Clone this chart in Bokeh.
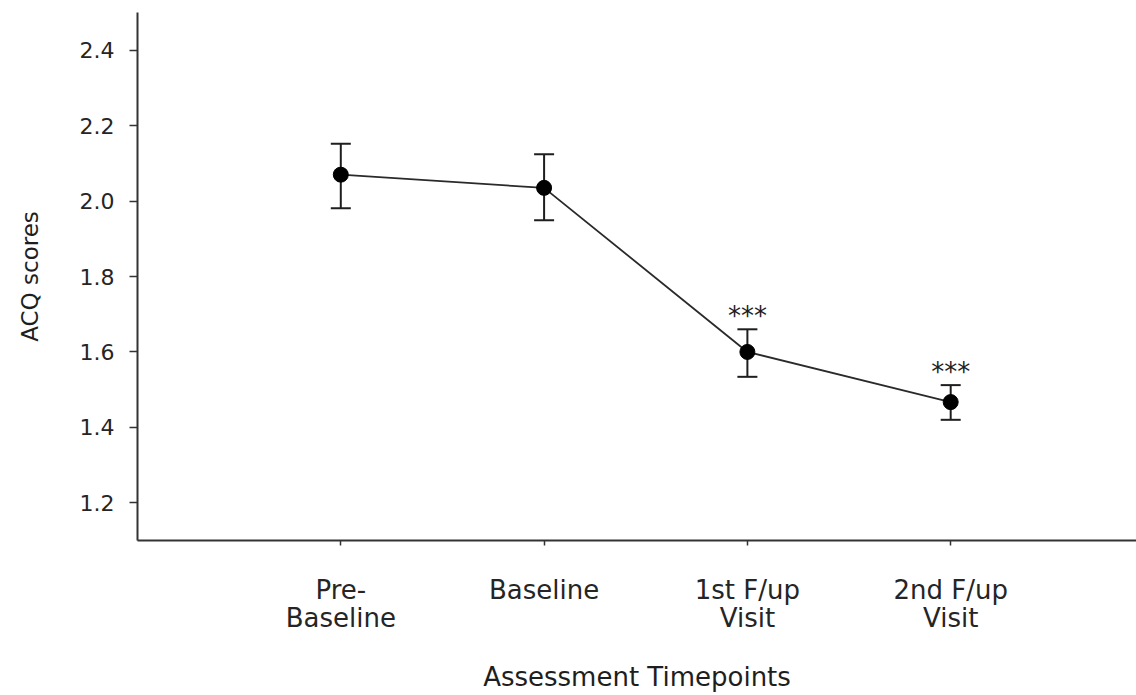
from bokeh.plotting import figure
from bokeh.models import ColumnDataSource, Whisker, TeeHead, FixedTicker, Range1d, NumeralTickFormatter
from bokeh.embed import file_html
from bokeh.resources import INLINE
from bokeh.core.properties import value

# ---- data ----
categories = ["Pre-\nBaseline", "Baseline", "1st F/up\nVisit", "2nd F/up\nVisit"]
positions = [1, 2, 3, 4]
means = [2.070, 2.035, 1.600, 1.467]
upper = [2.152, 2.124, 1.660, 1.512]
lower = [1.981, 1.949, 1.534, 1.420]
stars = ["", "", "***", "***"]
y_ticks = [1.2, 1.4, 1.6, 1.8, 2.0, 2.2, 2.4]

FONT = "DejaVu Sans"
INK = "#1e1e1e"

src = ColumnDataSource(dict(x=positions, y=means, upper=upper, lower=lower, stars=stars))

p = figure(width=1136, height=695, output_backend="svg", toolbar_location=None,
           x_range=Range1d(0, 4.914), y_range=Range1d(1.1, 2.5),
           min_border_left=137, min_border_right=0, min_border_top=12, min_border_bottom=154)
p.outline_line_color = None
p.xgrid.visible = False
p.ygrid.visible = False
p.background_fill_color = "white"
p.border_fill_color = "white"

# error bars
w = Whisker(source=src, base="x", upper="upper", lower="lower",
            line_color=INK, line_width=2,
            upper_head=TeeHead(size=20, line_color=INK, line_width=2),
            lower_head=TeeHead(size=20, line_color=INK, line_width=2))
p.add_layout(w)

p.line("x", "y", source=src, line_color="#2a2a2a", line_width=1.8)
p.scatter("x", "y", source=src, size=15, fill_color="black", line_color="black")

p.text("x", "upper", text="stars", source=src, text_font=value(FONT), text_font_size="26px",
       text_align="center", text_baseline="alphabetic", text_color=INK, y_offset=-13)

# axes
p.xaxis.ticker = FixedTicker(ticks=positions)
p.xaxis.major_label_overrides = {pos: lab for pos, lab in zip(positions, categories)}
p.xaxis.axis_label = "Assessment Timepoints"
p.yaxis.ticker = FixedTicker(ticks=y_ticks)
p.yaxis.formatter = NumeralTickFormatter(format="0.0")
p.yaxis.axis_label = "ACQ scores"

for ax in (p.xaxis[0], p.yaxis[0]):
    ax.axis_line_color = "#333333"
    ax.axis_line_width = 2
    ax.major_tick_line_color = "#333333"
    ax.major_tick_line_width = 1.5
    ax.major_tick_in = 0
    ax.minor_tick_line_color = None
    ax.major_label_text_font = FONT
    ax.major_label_text_color = "#252525"
    ax.axis_label_text_font = FONT
    ax.axis_label_text_font_style = "normal"
    ax.axis_label_text_color = INK

p.xaxis.major_tick_out = 5
p.xaxis.major_label_text_font_size = "26px"
p.xaxis.major_label_text_line_height = 0.95
p.xaxis.major_label_standoff = 29
p.xaxis.axis_label_text_font_size = "26px"
p.xaxis.axis_label_standoff = 26

p.yaxis.major_tick_out = 8
p.yaxis.major_label_text_font_size = "22px"
p.yaxis.major_label_standoff = 15
p.yaxis.axis_label_text_font_size = "23px"
p.yaxis.axis_label_standoff = 34

open("out.html", "w").write(file_html(p, INLINE))
